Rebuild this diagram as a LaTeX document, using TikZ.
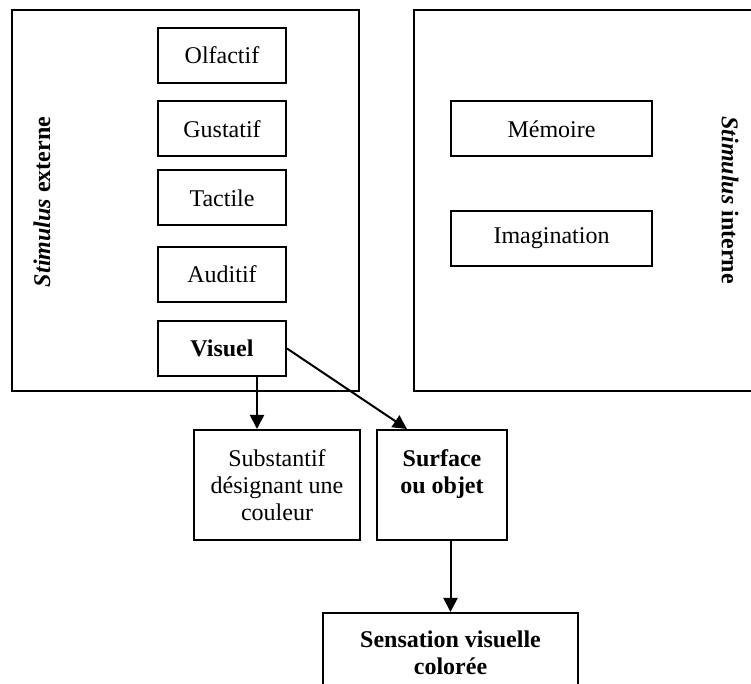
\documentclass[tikz,border=0pt]{standalone}
\usepackage{fontspec}
\setmainfont{Liberation Serif}
\usetikzlibrary{arrows.meta}

\begin{document}
\begin{tikzpicture}[x=0.5pt, y=-0.5pt, line width=1pt,
    every node/.style={font=\fontsize{12}{13.5}\selectfont},
    frame/.style={draw, minimum width=173.5pt, minimum height=190.5pt, inner sep=0pt},
    box/.style={draw, minimum width=64pt, minimum height=27.5pt, inner sep=0pt, align=center},
    >={Triangle[length=7pt,width=7pt]}]
  \useasboundingbox (0,0) rectangle (751,684);
  \clip (0,0) rectangle (751,684);
  % the two stimulus frames
  \node[frame] (ext) at (185.5,200.5) {};
  \node[frame] (int) at (587.5,200.5) {};
  \node[rotate=90] (extlab) at (42,202) {\textbf{\textit{Stimulus} externe}};
  \node[rotate=-90] (intlab) at (730,200) {\textbf{\textit{Stimulus} interne}};
  % senses
  \foreach \y/\n/\t in {55.5/olf/Olfactif, 129/gus/Gustatif, 198/tac/Tactile, 274.5/aud/Auditif}
    \node[box] (\n) at (222,\y) {\t};
  \node[box] (vis) at (222,348.5) {\textbf{Visuel}};
  % internal sources
  \node[box, minimum width=100.5pt] (mem) at (551.5,129) {M\'emoire};
  \node[box, minimum width=100.5pt] (ima) at (551.5,238.5) {Imagination};
  % results
  \node[box, minimum width=83pt, minimum height=55pt] (sub) at (277,485) {Substantif\\d\'esignant une\\couleur};
  \node[box, minimum width=65pt, minimum height=55pt] (sur) at (442,485) {\textbf{Surface}\\\textbf{ou objet}\\\mbox{}};
  \node[box, minimum width=127.5pt, minimum height=40pt] (sen) at (450.5,653) {\textbf{Sensation visuelle}\\\textbf{color\'ee}};
  \draw[->] ([xshift=17.5pt]vis.south) -- ([xshift=-10pt]sub.north);
  \draw[->] (vis.east) -- ([xshift=-17.5pt]sur.north);
  \draw[->] (sen.north |- sur.south) -- (sen.north);
\end{tikzpicture}
\end{document}
